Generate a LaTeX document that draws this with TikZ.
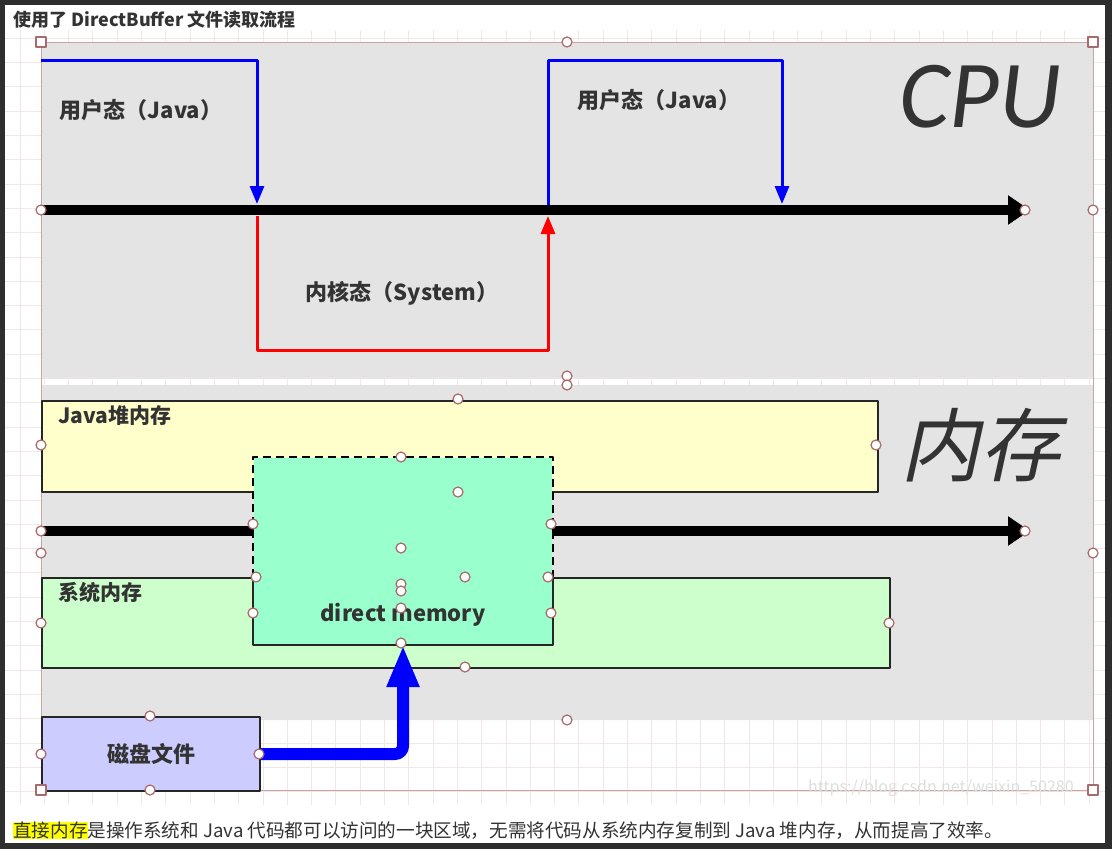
\documentclass[tikz,border=0pt]{standalone}
\usepackage{fontspec}
\setmainfont{Noto Sans CJK SC}
\newfontfamily\cpufont{Carlito}
\newfontfamily\memfont{Noto Sans CJK SC}[FakeSlant=0.22]
\usetikzlibrary{arrows.meta,positioning}
\definecolor{txt}{HTML}{333333}
\definecolor{panelgray}{HTML}{E4E4E4}
\definecolor{heapcol}{HTML}{FFFFCC}
\definecolor{syscol}{HTML}{CCFFCC}
\definecolor{dmcol}{HTML}{99FFCC}
\definecolor{diskcol}{HTML}{CCCCFF}
\definecolor{gridcol}{HTML}{F0E7E7}
\definecolor{selcol}{HTML}{A86A6A}
\definecolor{hlyellow}{HTML}{FFFF00}
\newcommand\lblfont{\fontsize{22}{26}\selectfont\bfseries}
\begin{document}
\begin{tikzpicture}[x=1pt,y=-1pt,line join=round,
  gridline/.style={draw=gridcol,line width=1pt},
  membox/.style={draw=black!85,line width=2pt,inner sep=0pt,anchor=north west},
  lbl/.style={text=txt,font=\lblfont,inner sep=0pt},
  timeline/.style={line width=10pt,-{Triangle[length=22pt,width=28pt]}},
  usr/.style={draw=blue,line width=3pt},
  krn/.style={draw=red,line width=3pt},
  tip/.style={-{Triangle[length=18pt,width=14pt]}},
  handle/.style={draw=selcol,fill=white,line width=1.2pt}]
\useasboundingbox (0,0) rectangle (1112,849);
\fill[black!82] (0,0) rectangle (1112,849);
\fill[white] (5,5) rectangle (1105,843);
% grid
\foreach \i in {0,...,44} \draw[gridline] ({20+24.3*\i},30)--({20+24.3*\i},805);
\foreach \j in {1,...,32} \draw[gridline] (5,{14+24.3*\j})--(1105,{14+24.3*\j});
\fill[panelgray] (41,42) rectangle (1093,378) (41,385) rectangle (1093,720);
\draw[selcol!60,line width=0.8pt] (41,42) rectangle (1093,790);
\node[anchor=west,text=txt,font=\fontsize{18}{20}\selectfont\bfseries,inner sep=0pt] (title) at (13,20) {使用了 DirectBuffer 文件读取流程};
% CPU
\coordinate (t0) at (41,210); \coordinate (t1) at (1030,210);
\coordinate (u0) at (41,60); \coordinate (u1) at (257,60); \coordinate (u2) at (257,204);
\coordinate (k0) at (257,216); \coordinate (k1) at (257,350); \coordinate (k2) at (548,350); \coordinate (k3) at (548,216);
\coordinate (v0) at (548,205); \coordinate (v1) at (548,60); \coordinate (v2) at (782,60); \coordinate (v3) at (782,204);
\draw[timeline] (t0)--(t1);
\draw[usr,tip] (u0)--(u1)--(u2);
\draw[krn,tip] (k0)--(k1)--(k2)--(k3);
\draw[usr,tip] (v0)--(v1)--(v2)--(v3);
\node[lbl] (user1) at (141,110) {用户态（Java）};
\node[lbl] (kernel) at (402,293) {内核态（System）};
\node[lbl] (user2) at (659,100) {用户态（Java）};
\node[text=txt,font=\cpufont\itshape\fontsize{96}{96}\selectfont,inner sep=0pt] (cpu) at (980,97) {CPU};
% memory
\node[membox,fill=heapcol,minimum width=836,minimum height=91] (heap) at (41,400) {};
\node[lbl,anchor=north west,font=\fontsize{21}{24}\selectfont\bfseries] (heaplbl) at ([shift={(17,5)}]heap.north west) {Java堆内存};
\coordinate (m0) at (41,531); \coordinate (m1) at (1030,531);
\draw[timeline] (m0)--(m1);
\node[membox,fill=syscol,minimum width=848,minimum height=90] (sys) at (41,577) {};
\node[lbl,anchor=north west,font=\fontsize{21}{24}\selectfont\bfseries] (syslbl) at ([shift={(17,5)}]sys.north west) {系统内存};
\node[membox,draw=none,fill=dmcol,minimum width=298,minimum height=186] (dm) at (253,457) {};
\draw[line width=2pt,dash pattern=on 8pt off 5pt] (dm.west |- sys.north)--(dm.north west)--(dm.north east)--(dm.east |- sys.north);
\draw[line width=2pt,black!85] (dm.east |- sys.north)--(dm.south east)--(dm.south west)--(dm.west |- sys.north);
\node[lbl,above=18pt of dm.south] (dmlbl) {direct memory};
\node[text=txt,font=\memfont\fontsize{80}{80}\selectfont,inner sep=0pt] (mem) at (980,445) {内存};
\node[membox,fill=diskcol,minimum width=218,minimum height=74,font=\lblfont,text=txt] (disk) at (41,716) {磁盘文件};
\draw[blue,line width=12pt,rounded corners=8pt,-{Triangle[length=42pt,width=30pt]}] (disk.east) -| (dm.south);
% watermark
\node[anchor=west,text=black!13,font=\fontsize{16}{18}\selectfont,inner sep=0pt] (mark) at (808,788) {https://blog.csdn.net/weixin\_50280};
% handles
\foreach \hx/\hy in {567/42,41/210,1093/210,1025/210,567/376,567/385,458/399,41/445,876/445,41/531,1025/531,41/553,1093/553,253/524,551/524,401/457,458/492,401/548,465/577,256/577,548/577,401/584,401/591,401/608,253/613,551/613,41/623,889/623,401/643,465/667,567/720,150/716,41/754,259/754,150/790}
  \draw[handle] (\hx,\hy) circle[radius=5];
\foreach \hx/\hy in {41/42,1093/42,41/790,1093/790}
  \draw[handle] (\hx-5,\hy-5) rectangle +(10,10);
% caption
\node[anchor=west,text=txt,font=\fontsize{18.6}{21}\selectfont,inner sep=0pt] (caption) at (13,831) {{\fboxsep=0pt\colorbox{hlyellow}{直接内存}}是操作系统和 Java 代码都可以访问的一块区域，无需将代码从系统内存复制到 Java 堆内存，从而提高了效率。};
\end{tikzpicture}
\end{document}
